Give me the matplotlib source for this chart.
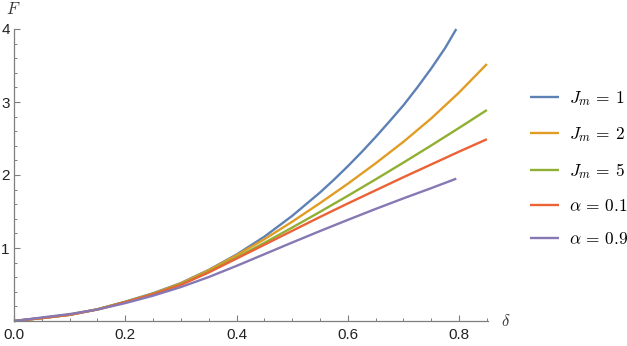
import numpy as np
import matplotlib
matplotlib.use("Agg")
import matplotlib.pyplot as plt
from matplotlib.ticker import MultipleLocator

plt.rcParams['mathtext.fontset'] = 'cm'
plt.rcParams['font.family'] = ['Liberation Sans', 'DejaVu Sans']

# delta sample points
delta_full = [0.0, 0.05, 0.10, 0.15, 0.20, 0.25, 0.30, 0.35, 0.40, 0.45, 0.50,
              0.55, 0.60, 0.65, 0.70, 0.75, 0.80, 0.85]
delta_jm1 = [0.0, 0.05, 0.10, 0.15, 0.20, 0.25, 0.30, 0.35, 0.40, 0.45, 0.50,
             0.55, 0.575, 0.60, 0.625, 0.65, 0.675, 0.70, 0.725, 0.75, 0.775, 0.795]
delta_a09 = [0.0, 0.05, 0.10, 0.15, 0.20, 0.25, 0.30, 0.35, 0.40, 0.45, 0.50,
             0.55, 0.60, 0.65, 0.70, 0.75, 0.795]

F_jm1 = [0.0, 0.040, 0.085, 0.160, 0.265, 0.380, 0.520, 0.700, 0.910, 1.155, 1.440,
         1.760, 1.935, 2.120, 2.315, 2.520, 2.735, 2.955, 3.200, 3.460, 3.740, 4.000]
F_jm2 = [0.0, 0.040, 0.085, 0.160, 0.260, 0.375, 0.515, 0.695, 0.900, 1.120, 1.360,
         1.615, 1.880, 2.160, 2.455, 2.775, 3.130, 3.520]
F_jm5 = [0.0, 0.040, 0.085, 0.160, 0.260, 0.372, 0.505, 0.675, 0.870, 1.070, 1.280,
         1.495, 1.715, 1.940, 2.170, 2.405, 2.645, 2.890]
F_a01 = [0.0, 0.040, 0.085, 0.158, 0.257, 0.366, 0.495, 0.665, 0.855, 1.045, 1.235,
         1.425, 1.610, 1.790, 1.970, 2.145, 2.320, 2.490]
F_a09 = [0.0, 0.048, 0.095, 0.157, 0.245, 0.347, 0.465, 0.602, 0.755, 0.915, 1.075,
         1.232, 1.385, 1.535, 1.680, 1.820, 1.950]

labels = [r'$J_m \,=\, 1$', r'$J_m \,=\, 2$', r'$J_m \,=\, 5$',
          r'$\alpha \,=\, 0.1$', r'$\alpha \,=\, 0.9$']
colors = ['#5E81B5', '#E19C24', '#8FB032', '#EB6235', '#8778B3']

x_ticks = [0.0, 0.2, 0.4, 0.6, 0.8]
y_ticks = [1, 2, 3, 4]

fig = plt.figure(figsize=(6.27, 3.46), dpi=100)
ax = fig.add_axes([14/627, 1 - 321/346, (488 - 14)/627, (321 - 29)/346])

series = [(delta_jm1, F_jm1), (delta_full, F_jm2), (delta_full, F_jm5),
          (delta_full, F_a01), (delta_a09, F_a09)]
handles = []
for (xs, ys), lab, c in zip(series, labels, colors):
    h, = ax.plot(xs, ys, color=c, lw=1.7, label=lab, clip_on=False,
                 solid_capstyle='butt', solid_joinstyle='round')
    handles.append(h)

ax.set_xlim(0, 0.852)
ax.set_ylim(0, 4)
for s in ['top', 'right']:
    ax.spines[s].set_visible(False)
for s in ['left', 'bottom']:
    ax.spines[s].set_color('#7f7f7f')
    ax.spines[s].set_linewidth(0.9)

ax.set_xticks(x_ticks)
ax.set_xticklabels([f'{t:.1f}' for t in x_ticks])
ax.set_yticks(y_ticks)
ax.set_yticklabels([str(t) for t in y_ticks])
ax.xaxis.set_minor_locator(MultipleLocator(0.05))
ax.yaxis.set_minor_locator(MultipleLocator(0.2))
ax.tick_params(which='major', direction='in', length=4.5, width=0.8, color='#7f7f7f',
               labelsize=11, labelcolor='#222222', pad=3)
ax.tick_params(which='minor', direction='in', length=2.5, width=0.7, color='#7f7f7f')
ax.tick_params(axis='x', pad=5)

fig.text(13/627, 1 - 9/346, r'$F$', fontsize=12, ha='center', va='center', color='#333333')
fig.text(506/627, 1 - 321/346, r'$\delta$', fontsize=12, ha='center', va='center', color='#333333')

leg = ax.legend(handles=handles, loc='center left', bbox_to_anchor=(1.0746, 0.524),
                frameon=False, fontsize=12.5, handlelength=1.67, handletextpad=0.57,
                labelspacing=0.98, borderaxespad=0)

fig.savefig('out.png', dpi=100)
